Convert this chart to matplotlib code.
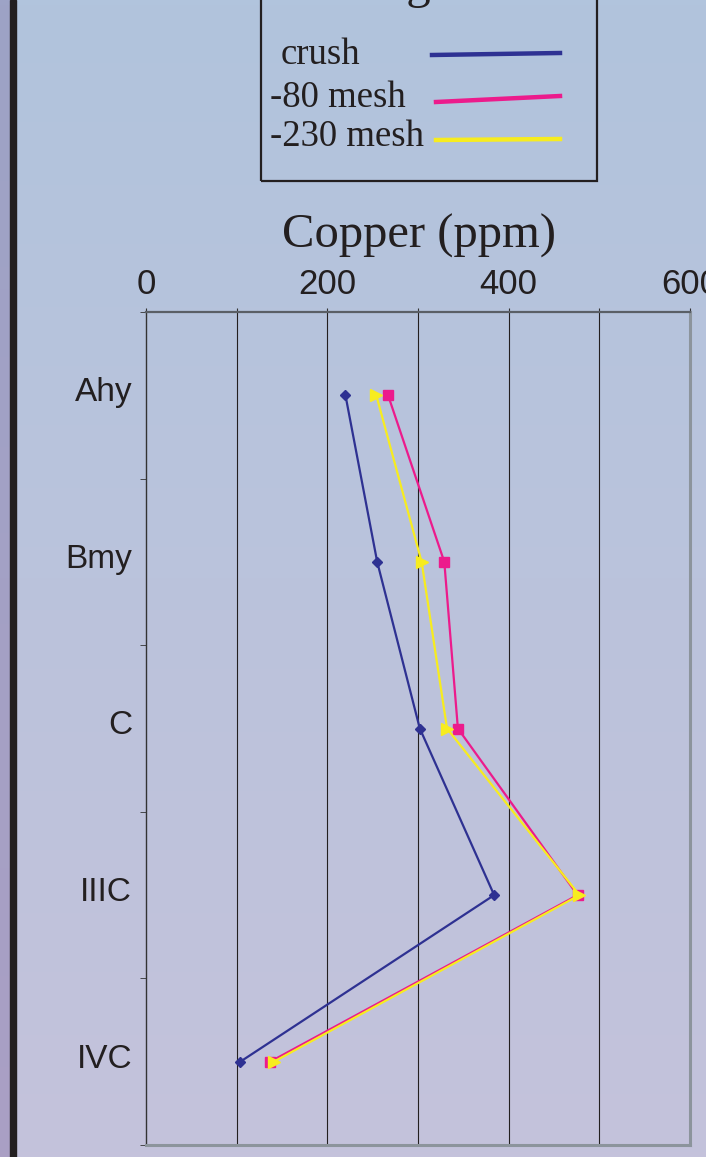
#!/usr/bin/env python3
"""Copper (ppm) by soil horizon for three sample preparations."""

import numpy as np
import matplotlib
matplotlib.use('Agg')
import matplotlib.pyplot as plt
import matplotlib.transforms as mtransforms
from matplotlib.patches import Rectangle
from matplotlib.lines import Line2D

# horizons, top to bottom
horizons = ['Ahy', 'Bmy', 'C', 'IIIC', 'IVC']

# copper values for each preparation
crush = [220, 255, 302, 384, 104]
mesh_80 = [267, 329, 344, 476, 137]
mesh_230 = [254, 304, 332, 478, 141]

series_names = ['crush', '-80 mesh', '-230 mesh']
x_ticks = [0, 100, 200, 300, 400, 500, 600]
x_tick_labels = ['0', '', '200', '', '400', '', '600']

W, H = 706, 1157
fig = plt.figure(figsize=(W / 100, H / 100), dpi=100)

# background gradient, light blue at the top to lavender at the bottom
bg = fig.add_axes([0, 0, 1, 1], zorder=-10)
t = np.linspace(0, 1, 256)[:, None]
top = np.array([177, 196, 221]) / 255
bottom = np.array([196, 194, 219]) / 255
grad = top * (1 - t) + bottom * t
bg.imshow(grad[:, None, :], aspect='auto', extent=[0, 1, 0, 1])
# purple strip on the left edge, also shading downwards
ptop = np.array([157, 163, 198]) / 255
pbot = np.array([170, 159, 196]) / 255
pgrad = ptop * (1 - t) + pbot * t
bg.imshow(pgrad[:, None, :], aspect='auto', extent=[0, 10 / W, 0, 1])
bg.set_xlim(0, 1)
bg.set_ylim(0, 1)
bg.axis('off')

# dark bar next to the strip
fig.patches.append(Rectangle((10 / W, 0), 6 / W, 1, transform=fig.transFigure,
                             color='#231f20', zorder=-5))

# main axes
ax = fig.add_axes([146 / W, 1 - 1145 / H, 544 / W, (1145 - 312) / H])
ax.patch.set_alpha(0)
ypos = np.arange(len(horizons))

colors = ['#2e3192', '#ec1b8c', '#f7ec1f']
markers = ['D', 's', '>']
msizes = [5, 7, 8]
for vals, c, m, ms in zip([crush, mesh_80, mesh_230], colors, markers, msizes):
    ax.plot(vals, ypos, color=c, lw=1.6, marker=m, ms=ms, mec=c, mfc=c, zorder=3)

ax.set_xlim(0, 600)
ax.set_ylim(len(horizons) - 0.5, -0.5)

ax.xaxis.tick_top()
ax.set_xticks(x_ticks)
ax.set_xticklabels(x_tick_labels, fontsize=25, family='Liberation Sans', color='#231f20')
ax.tick_params(axis='x', direction='out', length=3, pad=5, color='#333333')
for x in x_ticks[1:-1]:
    ax.axvline(x, color='#231f20', lw=0.8, zorder=1)

ax.set_yticks(ypos)
ax.set_yticklabels(horizons, fontsize=24, family='Liberation Sans', color='#231f20')
ax.set_yticks(np.arange(len(horizons) + 1) - 0.5, minor=True)
ax.tick_params(axis='y', which='major', length=0, pad=10)
ax.tick_params(axis='y', which='minor', length=4, direction='out', color='#333333')
# the horizon labels sit a little above their points
shift = mtransforms.ScaledTranslation(0, 6 / 100, fig.dpi_scale_trans)
for lab in ax.get_yticklabels():
    lab.set_transform(lab.get_transform() + shift)

ax.spines['left'].set_color('#333333')
ax.spines['left'].set_linewidth(1)
ax.spines['top'].set_color('#5a5f66')
ax.spines['top'].set_linewidth(1.6)
for s in ['right', 'bottom']:
    ax.spines[s].set_color('#8c949c')
    ax.spines[s].set_linewidth(2.2)

fig.text(419 / W, 1 - 236 / H, 'Copper (ppm)', ha='center', va='center',
         fontsize=35, family='Liberation Serif', color='#231f20')

# hand-drawn legend box at the top, its title runs off the page
fig.patches.append(Rectangle((261 / W, 1 - 181 / H), (597 - 261) / W, 200 / H,
                             transform=fig.transFigure, fill=False,
                             ec='#231f20', lw=1.6, zorder=5))
fig.text(429 / W, 1 + 2 / H, 'Legend', ha='center', va='baseline',
         fontsize=35, family='Liberation Serif', color='#231f20')
legend_text_x = [281, 270, 270]
legend_y = [55, 98, 137]
legend_lines = [((432, 55), (560, 53)), ((436, 102), (560, 96)), ((436, 140), (560, 139))]
for name, tx, ty, (p0, p1), c in zip(series_names, legend_text_x, legend_y,
                                      legend_lines, colors):
    fig.text(tx / W, 1 - ty / H, name, ha='left', va='center',
             fontsize=26.5, family='Liberation Serif', color='#231f20')
    fig.lines.append(Line2D([p0[0] / W, p1[0] / W], [1 - p0[1] / H, 1 - p1[1] / H],
                            transform=fig.transFigure, color=c, lw=3.2))

fig.savefig('out.png', dpi=100)
